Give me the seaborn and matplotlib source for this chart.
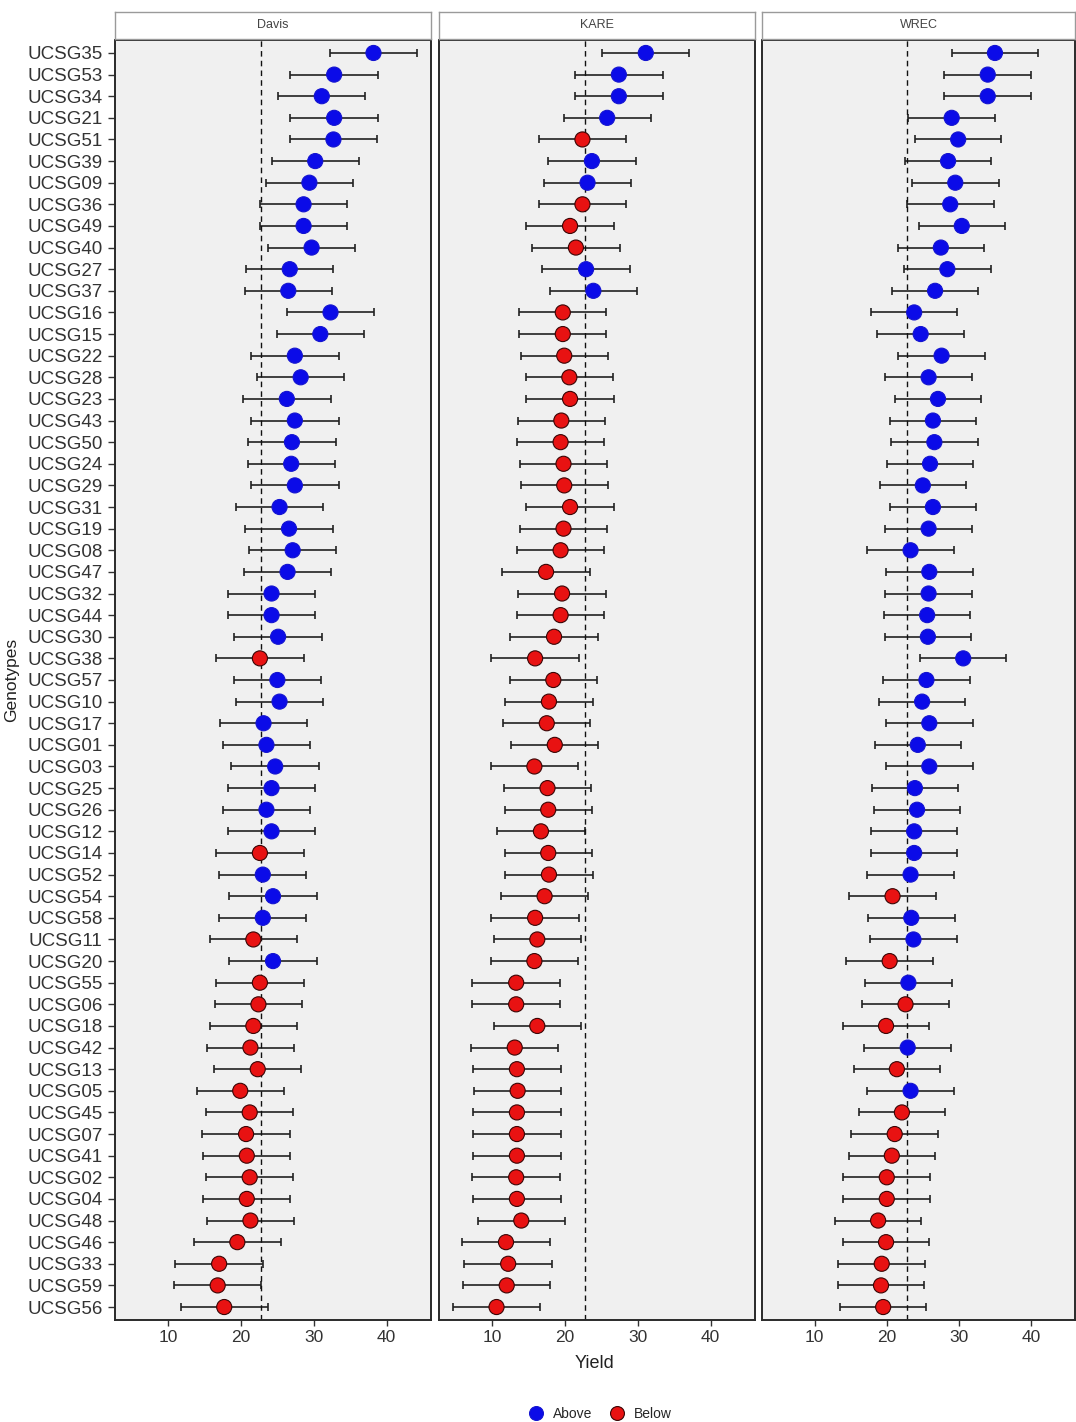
import numpy as np
import pandas as pd
import matplotlib
matplotlib.use("Agg")
import matplotlib.pyplot as plt
import seaborn as sns
from matplotlib.lines import Line2D

# Genotypes, top to bottom
genotypes = [
    "UCSG35", "UCSG53", "UCSG34", "UCSG21", "UCSG51", "UCSG39", "UCSG09", "UCSG36",
    "UCSG49", "UCSG40", "UCSG27", "UCSG37", "UCSG16", "UCSG15", "UCSG22", "UCSG28",
    "UCSG23", "UCSG43", "UCSG50", "UCSG24", "UCSG29", "UCSG31", "UCSG19", "UCSG08",
    "UCSG47", "UCSG32", "UCSG44", "UCSG30", "UCSG38", "UCSG57", "UCSG10", "UCSG17",
    "UCSG01", "UCSG03", "UCSG25", "UCSG26", "UCSG12", "UCSG14", "UCSG52", "UCSG54",
    "UCSG58", "UCSG11", "UCSG20", "UCSG55", "UCSG06", "UCSG18", "UCSG42", "UCSG13",
    "UCSG05", "UCSG45", "UCSG07", "UCSG41", "UCSG02", "UCSG04", "UCSG48", "UCSG46",
    "UCSG33", "UCSG59", "UCSG56",
]

sites = ["Davis", "KARE", "WREC"]

davis_yield = [
    38.2, 32.8, 31.1, 32.8, 32.7, 30.2, 29.4, 28.6, 28.6, 29.7,
    26.7, 26.5, 32.3, 30.9, 27.4, 28.2, 26.3, 27.4, 27.0, 26.9,
    27.4, 25.3, 26.6, 27.1, 26.4, 24.2, 24.2, 25.1, 22.6, 25.0,
    25.3, 23.1, 23.5, 24.7, 24.2, 23.5, 24.2, 22.6, 23.0, 24.4,
    23.0, 21.7, 24.4, 22.6, 22.4, 21.7, 21.3, 22.3, 19.9, 21.2,
    20.7, 20.8, 21.2, 20.8, 21.3, 19.5, 17.0, 16.8, 17.7,
]

kare_yield = [
    31.1, 27.4, 27.4, 25.8, 22.4, 23.7, 23.1, 22.4, 20.7, 21.5,
    22.9, 23.9, 19.7, 19.7, 19.9, 20.6, 20.7, 19.5, 19.4, 19.8,
    19.9, 20.7, 19.8, 19.4, 17.4, 19.6, 19.4, 18.5, 15.9, 18.4,
    17.8, 17.5, 18.6, 15.8, 17.6, 17.7, 16.7, 17.7, 17.8, 17.2,
    15.9, 16.2, 15.8, 13.3, 13.3, 16.2, 13.1, 13.4, 13.5, 13.4,
    13.4, 13.4, 13.3, 13.4, 14.0, 11.9, 12.2, 12.0, 10.6,
]

wrec_yield = [
    35.0, 34.0, 34.0, 29.0, 29.9, 28.5, 29.5, 28.8, 30.4, 27.5,
    28.4, 26.7, 23.8, 24.7, 27.6, 25.8, 27.1, 26.4, 26.6, 26.0,
    25.0, 26.4, 25.8, 23.3, 25.9, 25.8, 25.6, 25.7, 30.6, 25.5,
    24.9, 25.9, 24.3, 25.9, 23.9, 24.2, 23.8, 23.8, 23.3, 20.8,
    23.4, 23.7, 20.4, 23.0, 22.6, 19.9, 22.9, 21.4, 23.3, 22.1,
    21.1, 20.7, 20.0, 20.0, 18.8, 19.9, 19.3, 19.2, 19.5,
]

# half width of the confidence interval around each genotype mean
ci_half_width = 6.0
# overall mean yield used as the reference line
reference_yield = 22.75

x_ticks = [10, 20, 30, 40]
status_levels = ["Above", "Below"]

sns.set_theme(style="white")
plt.rcParams["font.family"] = ["Liberation Sans", "DejaVu Sans"]

rows = []
for site, vals in zip(sites, [davis_yield, kare_yield, wrec_yield]):
    for g, v in zip(genotypes, vals):
        rows.append({
            "Site": site,
            "Genotype": g,
            "Yield": v,
            "Status": "Above" if v > reference_yield else "Below",
        })
df = pd.DataFrame(rows)

palette = {"Above": "#0b0be8", "Below": "#e81212"}
edges = {"Above": "#1414d0", "Below": "#3a0505"}

W, H = 1076, 1422
fig = plt.figure(figsize=(W / 100, H / 100), dpi=100)

panel_left = [115, 439, 762]
panel_width = [316, 316, 313]
panel_top, panel_bottom = 40, 1320
strip_top = 12

n = len(genotypes)
for i, site in enumerate(sites):
    sub = df[df["Site"] == site].reset_index(drop=True)
    ax = fig.add_axes([panel_left[i] / W, 1 - panel_bottom / H,
                       panel_width[i] / W, (panel_bottom - panel_top) / H])
    ax.set_facecolor("#f0f0f0")

    ax.errorbar(sub["Yield"], sub["Genotype"], xerr=ci_half_width, fmt="none",
                ecolor="#222222", elinewidth=1.2, capsize=2.6, capthick=1.2, zorder=2)
    ax.axvline(reference_yield, color="#111111", lw=1.0, ls=(0, (4, 3)), zorder=2.5)
    sns.scatterplot(data=sub, x="Yield", y="Genotype", hue="Status",
                    hue_order=status_levels, palette=palette, s=118,
                    linewidth=0.8, legend=False, ax=ax, zorder=3)
    coll = ax.collections[-1]
    coll.set_edgecolors([edges[s] for s in sub["Status"]])

    ax.set_xlim(2.7, 46.1)
    ax.set_ylim(n - 1 + 0.6, -0.6)
    ax.set_xticks(x_ticks)
    ax.set_xticklabels([str(t) for t in x_ticks], fontsize=12.5, color="#333333")
    ax.tick_params(axis="x", direction="out", length=4, width=1.0, color="#333333",
                   pad=3, bottom=True)
    if i == 0:
        ax.tick_params(axis="y", direction="out", length=5, width=1.0, color="#333333",
                       pad=4, left=True, labelsize=13.5, labelcolor="#333333")
    else:
        ax.tick_params(axis="y", left=False, labelleft=False)
    ax.set_xlabel("")
    ax.set_ylabel("")
    ax.grid(False)
    for sp in ax.spines.values():
        sp.set_color("#2a2a2a")
        sp.set_linewidth(1.4)
        sp.set_visible(True)

    # facet strip
    sax = fig.add_axes([panel_left[i] / W, 1 - (panel_top - 1) / H,
                        panel_width[i] / W, (panel_top - 1 - strip_top) / H])
    sax.set_facecolor("white")
    sax.set_xticks([])
    sax.set_yticks([])
    for sp in sax.spines.values():
        sp.set_color("#9a9a9a")
        sp.set_linewidth(1.0)
    sax.text(0.5, 0.5, site, ha="center", va="center", fontsize=9, color="#444444",
             transform=sax.transAxes)

fig.text(595 / W, 1 - 1363 / H, "Yield", ha="center", va="center",
         fontsize=13, color="#222222")
fig.text(12 / W, 1 - 680 / H, "Genotypes", ha="center", va="center",
         rotation=90, fontsize=12.5, color="#222222")

handles = [
    Line2D([], [], ls="none", marker="o", markersize=10, markerfacecolor=palette[s],
           markeredgecolor=edges[s], markeredgewidth=0.8, label=s)
    for s in status_levels
]
fig.legend(handles=handles, loc="center", bbox_to_anchor=(600 / W, 1 - 1414 / H),
           ncol=2, frameon=False, fontsize=10, handletextpad=0.6, columnspacing=1.2,
           borderpad=0, handlelength=1.2)

fig.savefig("out.png", dpi=100)
